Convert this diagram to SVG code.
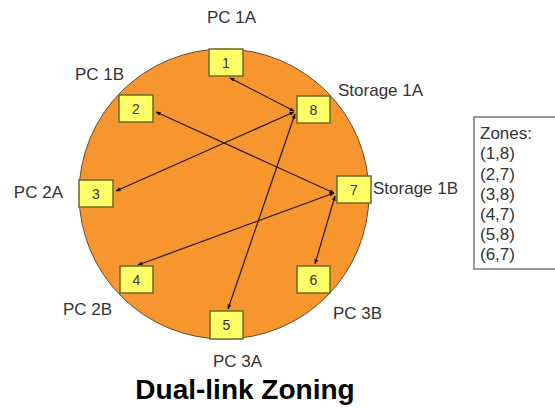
<svg xmlns="http://www.w3.org/2000/svg" width="555" height="408" viewBox="0 0 555 408">
<defs>
<style>
.lbl{font-family:"Liberation Sans",Arial,sans-serif;font-size:17px;fill:#333}
.num{font-family:"Liberation Sans",Arial,sans-serif;font-size:14px;fill:#333;text-anchor:middle}
.box{fill:#ffff66;stroke:#6b6b2a;stroke-width:1.5}
.ln{stroke:#2a1a0a;stroke-width:1.2;fill:none;marker-start:url(#ah);marker-end:url(#ah)}
.zt{font-family:"Liberation Sans",Arial,sans-serif;font-size:17px;fill:#333}
</style>
<marker id="ah" viewBox="0 0 10 10" refX="9" refY="5" markerWidth="5" markerHeight="5" orient="auto-start-reverse" markerUnits="userSpaceOnUse">
<path d="M0,1 L10,5 L0,9 z" fill="#1a1008"/>
</marker>
</defs>
<rect width="555" height="408" fill="#fff"/>
<circle cx="224" cy="194" r="145" fill="#f7962f" stroke="#6a4a2a" stroke-width="1"/>
<g id="connectors">
<line class="ln" x1="294" y1="111" x2="230" y2="78"/>
<line class="ln" x1="294" y1="112" x2="116" y2="191"/>
<line class="ln" x1="295" y1="114" x2="228" y2="309"/>
<line class="ln" x1="334" y1="193" x2="156" y2="112"/>
<line class="ln" x1="334" y1="193" x2="138" y2="265"/>
<line class="ln" x1="335" y1="196" x2="315" y2="264"/>
</g>
<g id="n1"><rect class="box" x="209" y="49" width="34" height="27"/><text class="num" x="226" y="67.5">1</text></g>
<g id="n2"><rect class="box" x="119" y="95" width="34" height="27"/><text class="num" x="136" y="113.5">2</text></g>
<g id="n3"><rect class="box" x="79" y="180" width="34" height="27"/><text class="num" x="96" y="198.5">3</text></g>
<g id="n4"><rect class="box" x="120" y="266" width="33" height="27"/><text class="num" x="136.5" y="284.5">4</text></g>
<g id="n5"><rect class="box" x="210" y="311" width="33" height="28"/><text class="num" x="226.5" y="330">5</text></g>
<g id="n6"><rect class="box" x="297" y="266" width="33" height="27"/><text class="num" x="313.5" y="284.5">6</text></g>
<g id="n7"><rect class="box" x="337" y="176" width="34" height="27"/><text class="num" x="354" y="194.5">7</text></g>
<g id="n8"><rect class="box" x="297" y="96" width="33" height="27"/><text class="num" x="313.5" y="114.5">8</text></g>
<g id="labels">
<text class="lbl" x="207" y="23">PC 1A</text>
<text class="lbl" x="75" y="80">PC 1B</text>
<text class="lbl" x="338" y="96">Storage 1A</text>
<text class="lbl" x="373" y="194">Storage 1B</text>
<text class="lbl" x="63" y="198" text-anchor="end">PC 2A</text>
<text class="lbl" x="63" y="315">PC 2B</text>
<text class="lbl" x="213" y="367">PC 3A</text>
<text class="lbl" x="333" y="319">PC 3B</text>
</g>
<g id="zones">
<rect x="474" y="117" width="84" height="152" fill="#fff" stroke="#777" stroke-width="1.5"/>
<text class="zt" x="480" y="139">Zones:</text>
<text class="zt" x="480" y="159">(1,8)</text>
<text class="zt" x="480" y="179.5">(2,7)</text>
<text class="zt" x="480" y="199.5">(3,8)</text>
<text class="zt" x="480" y="220">(4,7)</text>
<text class="zt" x="480" y="240">(5,8)</text>
<text class="zt" x="480" y="260">(6,7)</text>
</g>
<text x="245" y="399" text-anchor="middle" font-family="'Liberation Sans',Arial,sans-serif" font-size="28" font-weight="bold" fill="#000">Dual-link Zoning</text>
</svg>
